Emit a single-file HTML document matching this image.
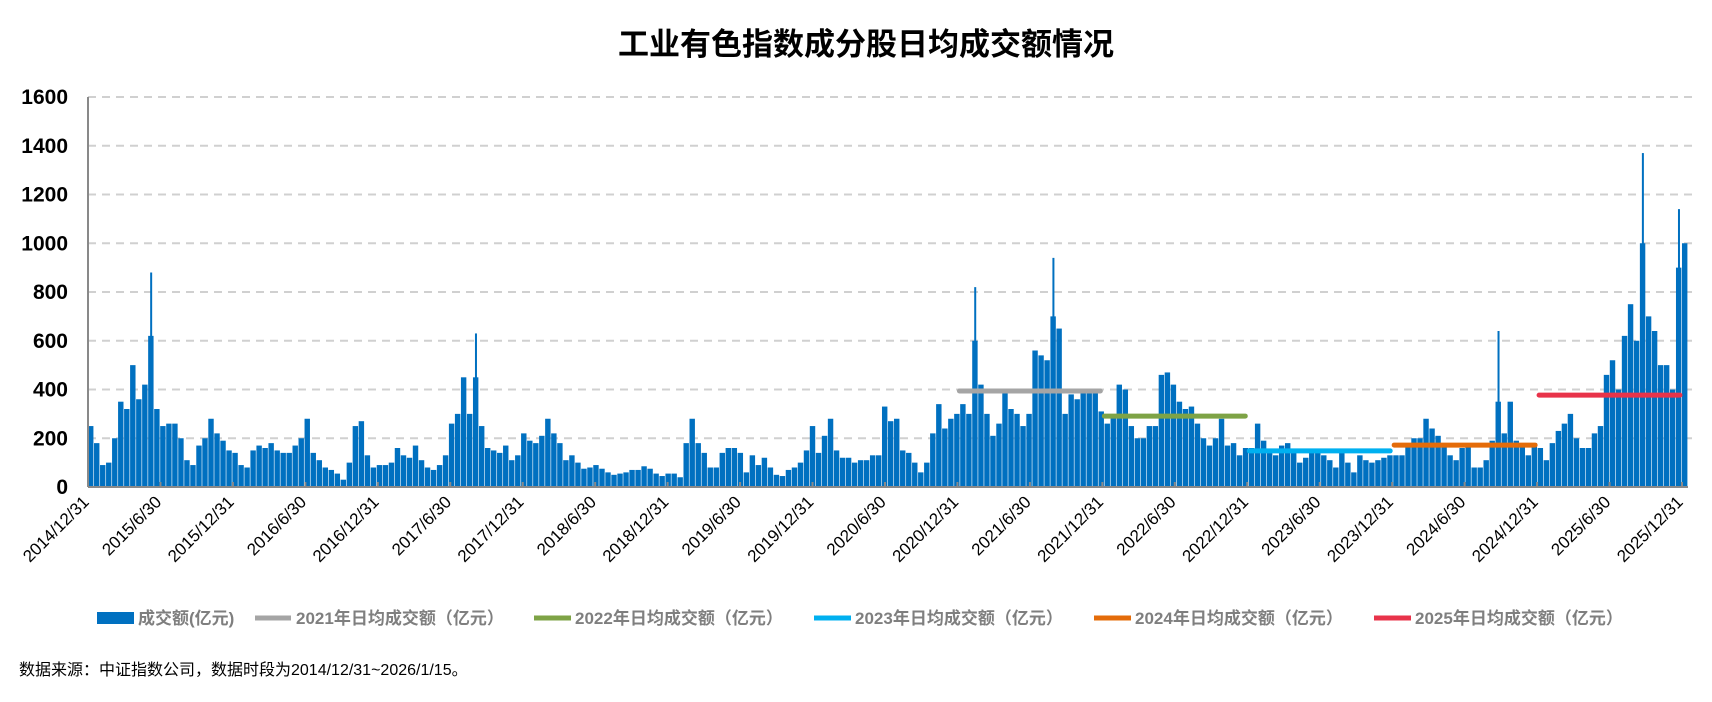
<!DOCTYPE html>
<html><head><meta charset="utf-8">
<style>
body{margin:0;background:#fff;width:1712px;height:697px;overflow:hidden;font-family:"Liberation Sans","Noto Sans CJK SC",sans-serif;}
</style></head>
<body>
<svg id="chart" width="1712" height="697" xmlns="http://www.w3.org/2000/svg" font-family="Liberation Sans, Noto Sans CJK SC, sans-serif">
<text x="866" y="55" text-anchor="middle" font-size="31" font-weight="bold" fill="#000">工业有色指数成分股日均成交额情况</text>
<g id="grid"></g><g id="bars"></g><g id="avg"></g><g id="axes"></g>
<g font-size="17" font-weight="bold" fill="#7f7f7f">
<rect x="97" y="612" width="37" height="12" fill="#0070c0"/>
<text x="138" y="624">成交额(亿元)</text>
<line x1="255" y1="618" x2="291" y2="618" stroke="#a5a5a5" stroke-width="5"/>
<text x="296" y="624">2021年日均成交额（亿元）</text>
<line x1="534" y1="618" x2="571" y2="618" stroke="#7ea346" stroke-width="5"/>
<text x="575" y="624">2022年日均成交额（亿元）</text>
<line x1="814" y1="618" x2="851" y2="618" stroke="#00b0f0" stroke-width="5"/>
<text x="855" y="624">2023年日均成交额（亿元）</text>
<line x1="1094" y1="618" x2="1131" y2="618" stroke="#e46c0a" stroke-width="5"/>
<text x="1135" y="624">2024年日均成交额（亿元）</text>
<line x1="1374" y1="618" x2="1411" y2="618" stroke="#e8334a" stroke-width="5"/>
<text x="1415" y="624">2025年日均成交额（亿元）</text>
</g>
<text x="19" y="675" font-size="16" fill="#000">数据来源：中证指数公司，数据时段为2014/12/31~2026/1/15。</text>
</svg>
<script>
const values = [250,180,90,100,200,350,320,500,360,420,620,320,250,260,260,200,110,90,170,200,280,220,190,150,140,90,80,150,170,160,180,150,140,140,170,200,280,140,110,80,70,55,30,100,250,270,130,80,90,90,100,160,130,120,
170,110,80,70,90,130,260,300,450,300,450,250,160,150,140,170,110,130,220,190,180,210,280,220,180,110,130,100,75,80,90,75,60,50,55,60,70,70,85,75,55,45,55,55,40,180,280,180,140,80,80,140,160,160,
140,60,130,90,120,80,50,45,70,80,100,150,250,140,210,280,150,120,120,100,110,110,130,130,330,270,280,150,140,100,60,100,220,340,240,280,300,340,300,600,420,300,210,260,400,320,300,250,300,560,540,520,700,650,
300,380,360,400,390,390,310,260,290,420,400,250,200,200,250,250,460,470,420,350,320,330,260,200,170,200,280,170,180,130,160,160,260,190,150,130,170,180,150,100,120,150,140,130,110,80,140,100,60,130,110,100,110,120,
130,130,130,180,200,200,280,240,210,170,130,110,160,170,80,80,110,190,350,220,350,190,180,130,180,160,110,180,230,260,300,200,160,160,220,250,460,520,400,620,750,600,1000,700,640,500,500,400,900,1000];
const spikeIdx = [10,64,147,160,234,258,264];
const spikeVal = [880,630,820,940,640,1370,1140];
const yTicks = [0,200,400,600,800,1000,1200,1400,1600];
const xTickLabels = ["2014/12/31","2015/6/30","2015/12/31","2016/6/30","2016/12/31","2017/6/30","2017/12/31","2018/6/30","2018/12/31","2019/6/30","2019/12/31","2020/6/30","2020/12/31","2021/6/30","2021/12/31","2022/6/30","2022/12/31","2023/6/30","2023/12/31","2024/6/30","2024/12/31","2025/6/30","2025/12/31"];
const avgYears = [2021,2022,2023,2024,2025];
const avgValues = [394,291,148,172,377];
const avgColors = ["#a5a5a5","#7ea346","#00b0f0","#e46c0a","#e8334a"];

const NS="http://www.w3.org/2000/svg";
const X0=88, X1=1688, Y0=487, Y1=97, VMAX=1600, HALF=(1682-88)/22;
const bw=(X1-X0)/values.length;
function y(v){return Y0-(v/VMAX)*(Y0-Y1);}
function xb(i){return X0+i*bw;}
function xYear(yr){return X0+(yr-2015)*2*HALF;}
function mk(tag,attrs,parent){const e=document.createElementNS(NS,tag);for(const k in attrs)e.setAttribute(k,attrs[k]);parent.appendChild(e);return e;}
const grid=document.getElementById('grid'),bars=document.getElementById('bars'),avg=document.getElementById('avg'),axes=document.getElementById('axes');
yTicks.forEach(t=>{
  if(t>0){const l=mk('line',{x1:X0,x2:1696,y1:y(t),y2:y(t),stroke:'#d0d0d0','stroke-width':2,'stroke-dasharray':'8,6'},grid);
  
  }
  const tx=mk('text',{x:68,y:y(t)+7,'text-anchor':'end','font-size':21,'font-weight':'bold',fill:'#000'},axes);
  tx.textContent=t;
  
  
});
values.forEach((v,i)=>{
  const r=mk('rect',{x:xb(i),y:y(v),width:bw-0.6,height:Y0-y(v),fill:'#0070c0'},bars);
  
  
});
spikeIdx.forEach((idx,k)=>{
  const r=mk('rect',{x:xb(idx)+bw/2-1,y:y(spikeVal[k]),width:2,height:Y0-y(spikeVal[k]),fill:'#0070c0'},bars);
  
  
});
avgYears.forEach((yr,k)=>{
  const l=mk('line',{x1:xYear(yr)+2,x2:xYear(yr+1)-2,y1:y(avgValues[k]),y2:y(avgValues[k]),stroke:avgColors[k],'stroke-width':5,'stroke-linecap':'round'},avg);
  
  
});
const ax=mk('line',{x1:X0,x2:X0,y1:Y1,y2:Y0,stroke:'#898989','stroke-width':2},axes);


const bx=mk('line',{x1:X0,x2:X1,y1:Y0,y2:Y0,stroke:'#898989','stroke-width':2},axes);


xTickLabels.forEach((lab,i)=>{
  const x=X0+i*HALF;
  const tk=mk('line',{x1:x,x2:x,y1:Y0-5,y2:Y0,stroke:'#898989','stroke-width':2},axes);
  
  
  const t=mk('text',{x:x+2,y:Y0+16,'text-anchor':'end','font-size':17,fill:'#000',transform:`rotate(-45 ${x+2} ${Y0+16})`},axes);
  t.textContent=lab;
  
  
});
</script>
</body></html>
